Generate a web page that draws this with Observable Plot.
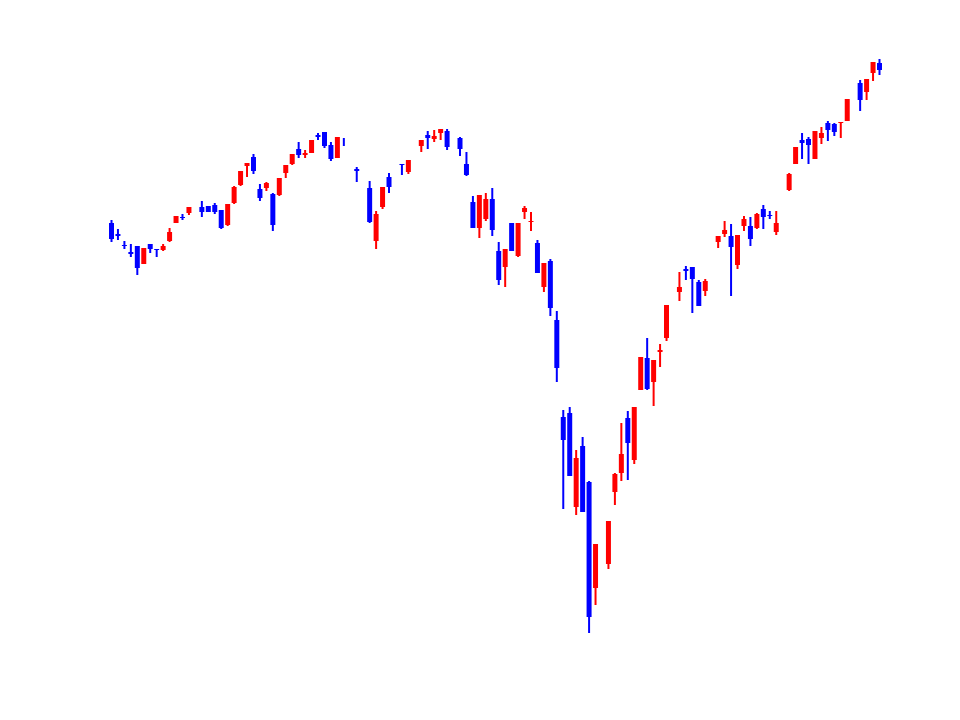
<!DOCTYPE html>
<html>
<head>
<meta charset="utf-8">
<script src="https://cdn.jsdelivr.net/npm/d3@7"></script>
<script src="https://cdn.jsdelivr.net/npm/@observablehq/plot@0.6"></script>
<style>
  html, body { margin: 0; padding: 0; background: #ffffff; }
  #chart { width: 960px; height: 720px; }
</style>
</head>
<body>
<div id="chart"></div>
<script>
// Trading-day slot (holidays leave empty slots)
const day = [
  0,1,2,3,4,5,6,7,8,9,10,11,12,
  14,15,16,17,18,19,20,21,22,23,24,25,26,27,28,29,30,31,32,33,34,35,36,
  38,
  40,41,42,43,
  45,46,
  48,49,50,51,52,
  54,55,56,57,58,59,60,61,62,63,64,65,66,67,68,69,70,71,72,73,74,75,
  77,78,79,80,81,82,83,84,85,86,
  88,89,90,91,92,
  94,95,96,97,98,99,100,101,102,103,
  105,106,107,108,109,110,111,112,113,114,
  116,117,118,119
];
const open = [
  497,486,475,468,474,456,476,471,470,479,497,503,507,
  513,514,515,510,495,517,535,554,563,531,532,526,525,547,556,571,565,567,585,588,575,562,578,
  551,
  532,479,513,543,
  556,548,
  574,585,581,587,589,
  582,556,518,492,501,521,469,453,497,464,508,498,477,433,459,400,303,307,213,274,238,132,
  156,228,247,302,260,330,362,338,368,382,
  428,451,453,438,429,
  478,486,484,455,494,494,492,511,505,488,
  530,556,580,581,561,582,597,596,597,599,
  637,628,647,657
];
const high = [
  500,491,479,476,474,472,476,471,476,492,504,506,513,
  519,514,517,510,516,534,549,557,566,536,538,527,542,555,566,578,570,580,587,588,578,583,582,
  553,
  539,509,533,547,
  556,560,
  580,589,590,591,591,
  583,568,524,525,527,532,478,471,497,497,514,508,480,457,461,409,310,313,270,283,239,176,
  199,247,297,309,313,363,382,360,376,415,
  448,454,453,440,441,
  484,499,496,485,504,503,507,515,509,509,
  547,573,587,583,589,593,599,597,598,621,
  640,641,658,661
];
const low = [
  478,480,471,463,445,456,467,463,469,478,497,500,505,
  503,508,506,491,494,516,534,543,546,519,529,489,524,542,555,562,562,567,580,572,559,562,574,
  538,
  497,471,511,527,
  545,546,
  568,571,578,580,570,
  564,544,492,482,499,484,435,433,469,463,501,489,447,428,404,338,211,244,205,208,87,115,
  151,215,239,240,256,330,330,314,353,379,
  419,440,407,414,424,
  472,483,424,451,489,474,491,491,501,485,
  529,556,561,556,561,576,579,584,582,599,
  609,620,639,645
];
const close = [
  481,484,474,466,452,472,471,470,474,488,504,502,513,
  508,508,508,492,516,533,549,557,549,522,537,495,542,555,566,565,567,580,583,574,561,583,578,
  549,
  498,506,533,533,
  555,560,
  580,582,584,591,573,
  571,545,492,525,521,490,440,471,469,497,512,499,447,457,412,352,280,244,262,208,103,176,
  199,246,266,277,313,363,331,360,370,415,
  433,449,441,414,439,
  484,490,473,485,501,481,506,503,504,497,
  546,573,577,575,589,587,590,588,598,621,
  620,641,658,650
];

const data = day.map((d, i) => ({
  day: d,
  open: open[i],
  high: high[i],
  low: low[i],
  close: close[i],
  dir: close[i] > open[i] ? "up" : "down"
}));

const chart = Plot.plot({
  width: 960,
  height: 720,
  marginLeft: 111,
  marginRight: 81,
  marginTop: 0,
  marginBottom: 0,
  x: { domain: [0, 119], axis: null },
  y: { domain: [0, 720], axis: null },
  color: { domain: ["up", "down"], range: ["#ff0000", "#0000ff"] },
  marks: [
    Plot.ruleX(data, { x: "day", y1: "low", y2: "high", stroke: "dir", strokeWidth: 2 }),
    Plot.ruleX(data, { x: "day", y1: "open", y2: "close", stroke: "dir", strokeWidth: 5 })
  ]
});
document.getElementById("chart").appendChild(chart);
</script>
</body>
</html>
